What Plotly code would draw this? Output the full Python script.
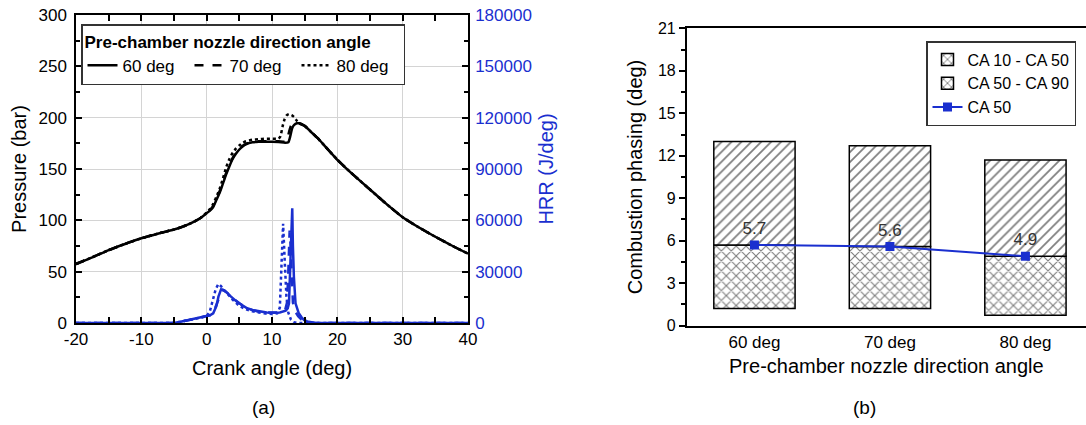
import plotly.graph_objects as go

# ---------------- Panel (a): pressure & HRR vs crank angle ----------------
ca_p60 = [-20, -17.5, -15, -12.5, -10, -7.5, -5, -4, -3, -2, -1, 0, 0.5, 1, 1.5, 2, 2.5, 3, 3.5, 4, 4.5, 5, 5.5, 6, 7, 8, 9, 10, 11, 12, 12.5, 12.8, 13.1, 13.4, 13.8, 14.2, 15, 16, 17, 18, 20, 22.5, 25, 27.5, 30, 32.5, 35, 37.5, 40]
p_60 = [57.5, 64, 71, 77, 82.5, 87, 91, 93, 95.5, 98.5, 102, 107, 109.5, 113, 120, 127, 136, 145, 153, 160, 165, 169, 172, 174, 176, 176.5, 176.5, 176.5, 176.3, 175.5, 176, 182, 190, 193, 194.5, 194.5, 192, 186, 180, 173, 159, 144, 130, 116, 103, 93, 84, 75.5, 67.5]

ca_p70 = [-20, -17.5, -15, -12.5, -10, -7.5, -5, -4, -3, -2, -1, 0, 0.5, 1, 1.5, 2, 2.5, 3, 3.5, 4, 4.5, 5, 5.5, 6, 7, 8, 10, 11, 12, 12.3, 12.6, 12.9, 13.2, 13.6, 14, 15, 16, 17, 18, 20, 22.5, 25, 27.5, 30, 32.5, 35, 37.5, 40]
p_70 = [57.5, 64, 71, 77, 82.5, 87, 91, 93, 95.5, 98.5, 102, 107, 110, 114, 121, 128.5, 137.5, 146.5, 154, 161, 166, 170, 172.5, 174.5, 176.5, 177, 177, 177, 176.5, 178, 186, 192, 193.5, 194, 194.5, 192, 186, 180, 173, 159, 144, 130, 116, 103, 93, 84, 75.5, 67.5]

ca_p80 = [-20, -17.5, -15, -12.5, -10, -7.5, -5, -4, -3, -2, -1, 0, 0.5, 1, 1.5, 2, 2.5, 3, 3.5, 4, 4.5, 5, 5.5, 6, 7, 8, 9, 10, 11, 11.3, 11.6, 11.9, 12.2, 12.6, 13, 13.4, 13.8, 14.2, 15, 16, 17, 18, 20, 22.5, 25, 27.5, 30, 32.5, 35, 37.5, 40]
p_80 = [57.5, 64, 71, 77, 82.5, 87, 91, 93, 95.5, 98.5, 102, 107.5, 111, 116, 123, 131, 141, 152, 160, 166, 170, 173, 175.5, 177, 178.5, 179, 179.5, 179.5, 179.5, 182, 191, 198, 202, 203.5, 202.5, 200.5, 197, 194.5, 192, 186, 180, 173, 159, 144, 130, 116, 103, 93, 84, 75.5, 67.5]

ca_h60 = [-20, -5, -4, -3, -2, -1, 0, 0.5, 1, 1.5, 1.8, 2.2, 2.5, 2.8, 3.2, 3.6, 4.1, 4.6, 5.4, 6.2, 7.2, 8.2, 9.2, 10.3, 11.2, 12.1, 12.4, 12.6, 12.8, 12.95, 13.1, 13.2, 13.35, 13.6, 13.9, 14.1, 14.5, 14.9, 15.4, 15.9, 16.5, 17, 40]
hrr_60 = [0, 0, 700, 1500, 2150, 3000, 3700, 4500, 5650, 10000, 15400, 19700, 19500, 18700, 17500, 15800, 14000, 12500, 10500, 8600, 7400, 6600, 6200, 6000, 6200, 7200, 8500, 11500, 38700, 60000, 67000, 45000, 27000, 11500, 8000, 5650, 3500, 1750, 900, 400, 150, 0, 0]

ca_h70 = [-20, -5, -3, -1, 0, 0.5, 1, 1.5, 2, 2.4, 2.8, 3.3, 4, 5, 6, 7, 8, 9, 10, 11, 12, 12.3, 12.5, 12.7, 12.85, 13.0, 13.2, 13.5, 14, 14.5, 15, 16, 40]
hrr_70 = [0, 0, 1500, 3000, 3700, 4500, 6000, 11000, 16500, 19300, 18800, 17000, 14500, 11500, 9000, 7500, 6600, 6200, 6000, 6200, 7500, 12000, 30000, 54000, 45000, 25000, 12000, 7000, 4000, 2000, 800, 0, 0]

ca_h80 = [-20, -5, -3, -1, 0, 0.5, 1, 1.4, 1.8, 2.2, 2.6, 3.2, 4, 5, 6, 7, 8, 9, 10, 10.8, 11.2, 11.45, 11.7, 11.95, 12.2, 12.5, 12.9, 13.3, 14, 40]
hrr_80 = [0, 0, 1500, 3000, 3900, 7000, 14000, 20000, 22800, 21500, 19500, 17000, 13500, 10000, 8000, 6800, 6000, 5500, 5300, 5600, 9000, 35000, 58000, 36000, 16000, 6000, 2000, 500, 0, 0]

series_names = ["60 deg", "70 deg", "80 deg"]
ca_tickvals = [-20, -10, 0, 10, 20, 30, 40]
ca_ticktext = ["-20", "-10", "0", "10", "20", "30", "40"]

# ---------------- Panel (b): combustion phasing ----------------
angles = ["60 deg", "70 deg", "80 deg"]
ca10 = [1.22, 1.22, 0.73]
ca50 = [5.7, 5.6, 4.9]
ca90 = [13.0, 12.71, 11.70]

FONT = "Liberation Sans, Arial, sans-serif"
BLUE = "#1a2fcf"
W, H = 1086, 425


def fx(px):
    return px / W


def fy(py):
    return 1 - py / H


fig = go.Figure()

dashes = ["solid", "dash", "dot"]
p_x = [ca_p60, ca_p70, ca_p80]
p_y = [p_60, p_70, p_80]
h_x = [ca_h60, ca_h70, ca_h80]
h_y = [hrr_60, hrr_70, hrr_80]

for i in range(3):
    fig.add_trace(go.Scatter(
        x=h_x[i], y=h_y[i], mode="lines", xaxis="x", yaxis="y2",
        line=dict(color=BLUE, width=2.5, dash=dashes[i]), showlegend=False))

for i in range(3):
    fig.add_trace(go.Scatter(
        x=p_x[i], y=p_y[i], mode="lines", name=series_names[i], xaxis="x", yaxis="y",
        line=dict(color="black", width=2.5, dash=dashes[i], shape="spline", smoothing=0.5),
        legend="legend"))

lower = [b - a for a, b in zip(ca10, ca50)]
upper = [c - b for b, c in zip(ca50, ca90)]

pat_x = dict(shape="x", fgcolor="black", bgcolor="white", size=7, solidity=0.3)
pat_d = dict(shape="/", fgcolor="black", bgcolor="white", size=7, solidity=0.25)

fig.add_trace(go.Bar(
    x=angles, y=lower, base=ca10, width=0.6, name="CA 10 - CA 50",
    xaxis="x2", yaxis="y3", legend="legend2",
    marker=dict(color="white", line=dict(color="black", width=1.5), pattern=pat_x)))
fig.add_trace(go.Bar(
    x=[None], y=[None], name="CA 50 - CA 90",
    xaxis="x2", yaxis="y3", legend="legend2",
    marker=dict(color="white", line=dict(color="black", width=1.5), pattern=pat_x)))
fig.add_trace(go.Bar(
    x=angles, y=upper, base=ca50, width=0.6, name="CA 50 - CA 90", showlegend=False,
    xaxis="x2", yaxis="y3",
    marker=dict(color="white", line=dict(color="black", width=1.5), pattern=pat_d)))
fig.add_trace(go.Scatter(
    x=angles, y=ca50, mode="lines+markers+text", name="CA 50",
    text=[f"{v:.1f}" for v in ca50], textposition="top center",
    textfont=dict(size=17, color="#333333", family=FONT),
    xaxis="x2", yaxis="y3", legend="legend2",
    line=dict(color=BLUE, width=2), marker=dict(symbol="square", size=9, color=BLUE)))

axis_common = dict(linecolor="black", linewidth=1.5, showline=True, zeroline=False,
                   automargin=False, ticklabeloverflow="allow",
                   tickfont=dict(family=FONT, size=17, color="black"))

fig.update_layout(
    width=W, height=H, margin=dict(l=0, r=0, t=0, b=0, autoexpand=False),
    paper_bgcolor="white", plot_bgcolor="white",
    font=dict(family=FONT, color="black"),
    barmode="overlay",
    xaxis=dict(domain=[fx(76), fx(468)], range=[-20, 40],
               tickmode="array", tickvals=ca_tickvals, ticktext=ca_ticktext,
               ticks="inside", ticklen=6, tickwidth=1.5, tickcolor="black", mirror="allticks",
               minor=dict(dtick=5, tick0=0, ticks="inside", ticklen=4, tickcolor="black", showgrid=False),
               showgrid=True, gridcolor="#d4d4d4", gridwidth=1,
               title=dict(text="Crank angle (deg)", font=dict(size=20, family=FONT), standoff=13),
               anchor="y", **axis_common),
    yaxis=dict(domain=[fy(323), fy(15)], range=[0, 300], dtick=50,
               ticks="inside", ticklen=6, tickwidth=1.5, tickcolor="black",
               ticklabelstandoff=4,
               minor=dict(dtick=25, ticks="inside", ticklen=4, tickcolor="black", showgrid=False),
               showgrid=True, gridcolor="#d4d4d4", gridwidth=1,
               title=dict(text="Pressure (bar)", font=dict(size=20, family=FONT), standoff=6),
               anchor="x", **axis_common),
    yaxis2=dict(overlaying="y", side="right", anchor="x", range=[0, 180000], dtick=30000,
                tickformat="d", automargin=False, ticklabeloverflow="allow",
                ticks="inside", ticklen=6, tickwidth=1.5, tickcolor="black",
                ticklabelstandoff=2,
                minor=dict(dtick=15000, ticks="inside", ticklen=4, tickcolor="black", showgrid=False),
                showgrid=False, showline=True, linecolor="black", linewidth=1.5, zeroline=False,
                tickfont=dict(family=FONT, size=17, color=BLUE),
                title=dict(text="HRR (J/deg)", font=dict(size=20, family=FONT, color=BLUE), standoff=8)),
    xaxis2=dict(domain=[fx(686.7), 1.0], type="category", range=[-0.5, 2.447],
                ticks="", mirror=True, showgrid=False, anchor="y3", automargin=False,
                title=dict(text="Pre-chamber nozzle direction angle", font=dict(size=20, family=FONT), standoff=8),
                linecolor="black", linewidth=1.5, showline=True, zeroline=False,
                tickfont=dict(family=FONT, size=17, color="black")),
    yaxis3=dict(domain=[fy(325.7), fy(28.3)], range=[0, 21], dtick=3, anchor="x2",
                ticks="outside", ticklen=6, tickwidth=1.5, tickcolor="black",
                minor=dict(dtick=1.5, ticks="outside", ticklen=4, tickcolor="black"),
                showgrid=False, mirror=False, automargin=False, ticklabeloverflow="allow",
                title=dict(text="Combustion phasing (deg)", font=dict(size=20, family=FONT), standoff=10),
                linecolor="black", linewidth=1.5, showline=True, zeroline=False,
                tickfont=dict(family=FONT, size=16, color="black")),
    legend=dict(x=fx(81), y=fy(24), xanchor="left", yanchor="top", orientation="h",
                bgcolor="white", bordercolor="#333333", borderwidth=1.5,
                title=dict(text="<b>Pre-chamber nozzle direction angle</b>", side="top",
                           font=dict(size=17, family=FONT)),
                font=dict(size=17, family=FONT), entrywidth=62, entrywidthmode="pixels",
                tracegroupgap=0),
    legend2=dict(x=fx(926), y=fy(41), xanchor="left", yanchor="top",
                 bgcolor="white", bordercolor="#333333", borderwidth=1.5,
                 font=dict(size=16, family=FONT), traceorder="normal", tracegroupgap=0),
    annotations=[
        dict(text="(a)", x=fx(250), y=fy(407), xref="paper", yref="paper", yanchor="middle",
             showarrow=False, font=dict(size=19, family=FONT)),
        dict(text="(b)", x=fx(878), y=fy(407), xref="paper", yref="paper", yanchor="middle",
             showarrow=False, font=dict(size=19, family=FONT)),
    ],
)

# remove the browser's default 8px page margin so the figure fills the window
fig.write_html("out.html", config={"displayModeBar": False},
               post_script="document.body.style.margin='0';document.body.style.overflow='hidden';")
